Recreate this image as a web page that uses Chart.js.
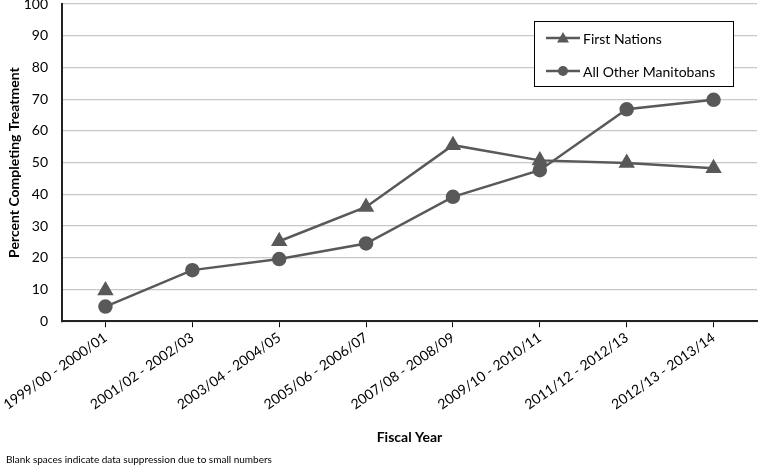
<!DOCTYPE html>
<html>
<head>
<meta charset="utf-8">
<script src="https://cdn.jsdelivr.net/npm/chart.js@4.4.0/dist/chart.umd.min.js"></script>
<style>
  html, body { margin: 0; padding: 0; background: #fff; }
  #wrap { width: 759px; height: 466px; position: relative; }
</style>
</head>
<body>
<div id="wrap"><canvas id="treatmentChart"></canvas></div>
<script>
const fiscalYears = [
    '1999/00 - 2000/01', '2001/02 - 2002/03', '2003/04 - 2004/05', '2005/06 - 2006/07',
    '2007/08 - 2008/09', '2009/10 - 2010/11', '2011/12 - 2012/13', '2012/13 - 2013/14'
];
// null = suppressed (small numbers)
const firstNations = [9.7, null, 25.2, 36.0, 55.5, 50.7, 49.9, 48.2];
const allOtherManitobans = [4.6, 16.1, 19.6, 24.5, 39.2, 47.6, 66.8, 69.8];
const yTicks = [0, 10, 20, 30, 40, 50, 60, 70, 80, 90, 100];

const lineGrey = '#595959';
const fontFamily = 'Lato, "Open Sans", sans-serif';

// legend box drawn inside the plot, like the original
const insideLegend = {
    id: 'insideLegend',
    afterDraw(chart) {
        const { ctx, chartArea } = chart;
        const x = chartArea.right - 223;
        const y = chartArea.top + 17;
        const w = 199, h = 65;
        ctx.save();
        ctx.fillStyle = '#fff';
        ctx.fillRect(x, y, w, h);
        ctx.strokeStyle = '#000';
        ctx.lineWidth = 1;
        ctx.strokeRect(x + 0.5, y + 0.5, w, h);
        chart.data.datasets.forEach((ds, i) => {
            const cy = y + 17 + i * 33;
            ctx.strokeStyle = ds.borderColor;
            ctx.lineWidth = 2.5;
            ctx.beginPath();
            ctx.moveTo(x + 12, cy);
            ctx.lineTo(x + 46, cy);
            ctx.stroke();
            ctx.fillStyle = ds.pointBackgroundColor;
            if (ds.pointStyle === 'triangle') {
                ctx.beginPath();
                ctx.moveTo(x + 29, cy - 6);
                ctx.lineTo(x + 35, cy + 4.5);
                ctx.lineTo(x + 23, cy + 4.5);
                ctx.closePath();
                ctx.fill();
            } else {
                ctx.beginPath();
                ctx.arc(x + 29, cy, 5, 0, Math.PI * 2);
                ctx.fill();
            }
            ctx.fillStyle = '#000';
            ctx.font = '14px ' + fontFamily;
            ctx.textBaseline = 'middle';
            ctx.fillText(ds.label, x + 49, cy + 1);
        });
        ctx.restore();
    }
};

const ctx = document.getElementById('treatmentChart').getContext('2d');

new Chart(ctx, {
    type: 'line',
    data: {
        labels: fiscalYears,
        datasets: [{
            label: 'First Nations',
            data: firstNations,
            borderColor: lineGrey,
            backgroundColor: lineGrey,
            pointBackgroundColor: lineGrey,
            pointBorderColor: lineGrey,
            pointStyle: 'triangle',
            pointRadius: 7,
            borderWidth: 2.5,
            spanGaps: false,
            clip: false,
            tension: 0
        }, {
            label: 'All Other Manitobans',
            data: allOtherManitobans,
            borderColor: lineGrey,
            backgroundColor: lineGrey,
            pointBackgroundColor: lineGrey,
            pointBorderColor: lineGrey,
            pointStyle: 'circle',
            pointRadius: 6,
            borderWidth: 2.5,
            clip: false,
            tension: 0
        }]
    },
    options: {
        responsive: true,
        maintainAspectRatio: false,
        animation: false,
        layout: { autoPadding: false, padding: { top: 4, right: 2, left: 6, bottom: 0 } },
        scales: {
            x: {
                offset: true,
                afterFit(axis) {
                    axis.paddingLeft = 0;
                    axis.paddingRight = 0;
                },
                grid: {
                    display: true,
                    drawOnChartArea: false,
                    offset: false,
                    tickLength: 6,
                    color: '#000'
                },
                border: { color: '#222', width: 2 },
                ticks: {
                    color: '#000',
                    font: { size: 14, family: fontFamily },
                    minRotation: 35,
                    maxRotation: 35,
                    padding: 2
                },
                title: {
                    display: true,
                    text: 'Fiscal Year',
                    color: '#000',
                    font: { size: 14, weight: 'bold', family: fontFamily },
                    padding: { top: 14, bottom: 2 }
                }
            },
            y: {
                min: 0,
                max: 100,
                afterBuildTicks(axis) {
                    axis.ticks = yTicks.map(v => ({ value: v }));
                },
                afterFit(axis) {
                    axis.paddingTop = 0;
                    axis.paddingBottom = 0;
                    axis.width = 56;
                },
                grid: { color: '#c8c8c8', lineWidth: 1.3, tickLength: 0 },
                border: { color: '#222', width: 2 },
                ticks: {
                    color: '#000',
                    font: { size: 14, family: fontFamily },
                    padding: 14
                },
                title: {
                    display: true,
                    text: 'Percent Completing Treatment',
                    color: '#000',
                    font: { size: 14, weight: 'bold', family: fontFamily },
                    padding: { top: 0, bottom: 2 }
                }
            }
        },
        plugins: {
            legend: { display: false },
            tooltip: { enabled: false },
            subtitle: {
                display: true,
                position: 'bottom',
                align: 'start',
                text: 'Blank spaces indicate data suppression due to small numbers',
                color: '#000',
                font: { size: 10, family: fontFamily },
                padding: { top: 6, bottom: 0 }
            }
        }
    },
    plugins: [insideLegend]
});
</script>
</body>
</html>
